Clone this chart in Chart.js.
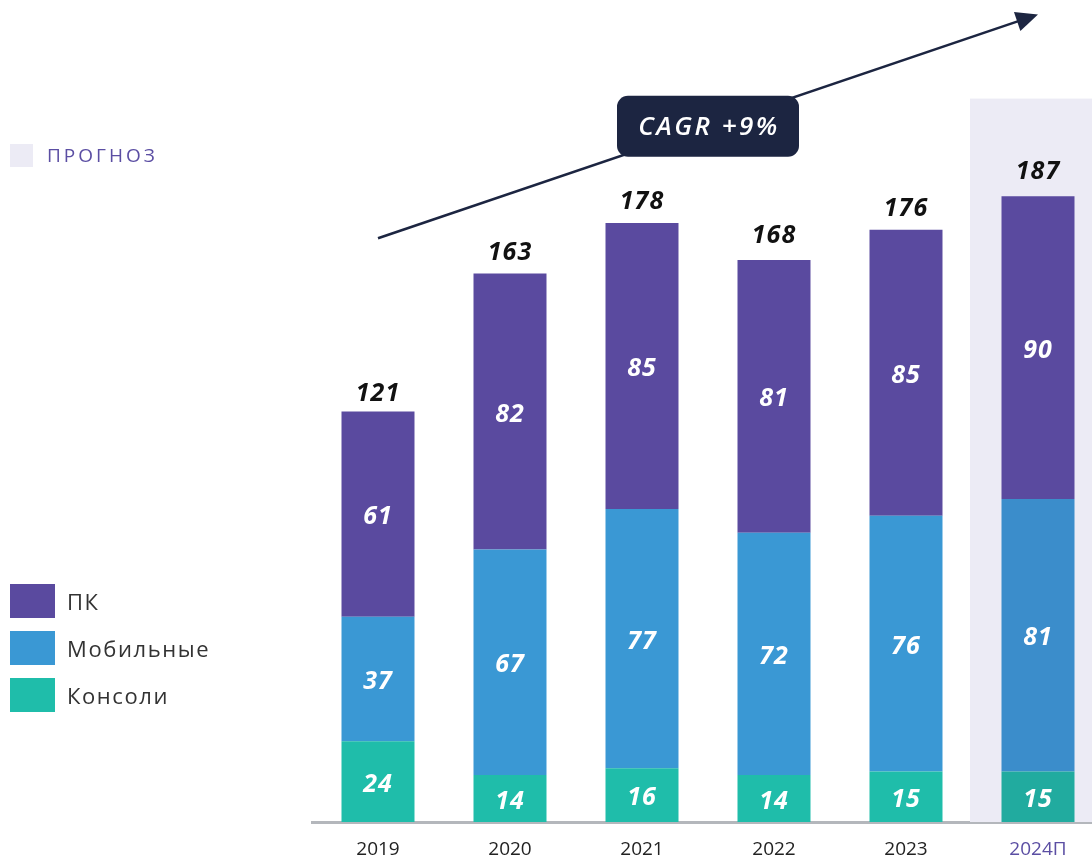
<!DOCTYPE html>
<html>
<head>
<meta charset="utf-8">
<script src="https://cdn.jsdelivr.net/npm/chart.js@4"></script>
<style>
  body { margin: 0; background: #fff; overflow: hidden; font-family: "Open Sans", sans-serif; }
  #wrap { position: absolute; left: 0; top: 0; width: 1104px; height: 857px; }
  .lg { position: absolute; left: 10px; display: flex; align-items: center; }
  .lg .sw { width: 45px; height: 34px; }
  .lg span { margin-left: 12px; font-size: 22px; color: #333; letter-spacing: 1.6px; }
  #fc { position: absolute; left: 10px; top: 142px; display: flex; align-items: center; }
  #fc .sw { width: 23px; height: 23px; background: #ecebf5; }
  #fc span { margin-left: 14px; font-size: 19px; color: #5b4ea3; letter-spacing: 3px; }
</style>
</head>
<body>
<div id="wrap"><canvas id="chart" width="1104" height="857"></canvas></div>

<div id="fc"><div class="sw"></div><span>ПРОГНОЗ</span></div>
<div class="lg" style="top:584px"><div class="sw" style="background:#5a4a9f"></div><span>ПК</span></div>
<div class="lg" style="top:631px"><div class="sw" style="background:#3a98d4"></div><span>Мобильные</span></div>
<div class="lg" style="top:678px"><div class="sw" style="background:#1fbdaa"></div><span>Консоли</span></div>

<script>
// данные по годам
const years = ['2019', '2020', '2021', '2022', '2023', '2024П'];
const consoles = [24, 14, 16, 14, 15, 15];
const mobile = [37, 67, 77, 72, 76, 81];
const pc = [61, 82, 85, 81, 85, 90];
const totals = [121, 163, 178, 168, 176, 187];
const cagrText = 'CAGR +9%';

// прогнозный год чуть темнее (подложка)
const forecastIndex = 5;
function colorsFor(normal, forecast) {
    return years.map((y, i) => i === forecastIndex ? forecast : normal);
}

const labelFont = 'italic bold 25px "Open Sans", sans-serif';

const decorations = {
    id: 'decorations',
    beforeDatasetsDraw(chart) {
        const ctx = chart.ctx;
        const x = chart.scales.x;
        const y = chart.scales.y;
        const left = x.getPixelForValue(forecastIndex) - 68;
        const top = y.getPixelForValue(215);
        ctx.save();
        ctx.fillStyle = '#ecebf5';
        ctx.fillRect(left, top, chart.width - left, chart.chartArea.bottom - top);
        ctx.restore();
    },
    afterDatasetsDraw(chart) {
        const ctx = chart.ctx;
        const x = chart.scales.x;
        const y = chart.scales.y;
        ctx.save();
        ctx.textAlign = 'center';
        ctx.textBaseline = 'middle';
        ctx.font = labelFont;
        ctx.letterSpacing = '1px';

        // подписи внутри сегментов
        chart.data.datasets.forEach((ds, di) => {
            const meta = chart.getDatasetMeta(di);
            meta.data.forEach((bar, i) => {
                ctx.fillStyle = '#ffffff';
                ctx.fillText(ds.data[i], bar.x, (bar.y + bar.base) / 2 + 3);
            });
        });

        // итоги над столбцами
        ctx.fillStyle = '#111111';
        totals.forEach((t, i) => {
            ctx.fillText(t, x.getPixelForValue(i), y.getPixelForValue(t) - 21);
        });

        // стрелка роста
        const x1 = x.getPixelForValue(0), y1 = y.getPixelForValue(173.5);
        const x2 = x.getPixelForValue(forecastIndex), y2 = y.getPixelForValue(240);
        ctx.strokeStyle = '#1c2541';
        ctx.fillStyle = '#1c2541';
        ctx.lineWidth = 2.6;
        ctx.beginPath();
        ctx.moveTo(x1, y1);
        ctx.lineTo(x2 - 10, y2 + 3.4);
        ctx.stroke();
        const ang = Math.atan2(y2 - y1, x2 - x1);
        const len = 22, wid = 10;
        ctx.beginPath();
        ctx.moveTo(x2, y2);
        ctx.lineTo(x2 - len * Math.cos(ang) + wid * Math.sin(ang), y2 - len * Math.sin(ang) - wid * Math.cos(ang));
        ctx.lineTo(x2 - len * Math.cos(ang) - wid * Math.sin(ang), y2 - len * Math.sin(ang) + wid * Math.cos(ang));
        ctx.closePath();
        ctx.fill();

        // плашка CAGR
        const cx = (x1 + x2) / 2, cy = (y1 + y2) / 2;
        const bw = 182, bh = 61;
        ctx.beginPath();
        ctx.roundRect(cx - bw / 2, cy - bh / 2, bw, bh, 11);
        ctx.fill();
        ctx.fillStyle = '#ffffff';
        ctx.font = 'italic 600 26px "Open Sans", sans-serif';
        ctx.letterSpacing = '2.5px';
        ctx.fillText(cagrText, cx + 1, cy + 1);
        ctx.restore();
    }
};

const ctx = document.getElementById('chart').getContext('2d');
new Chart(ctx, {
    type: 'bar',
    data: {
        labels: years,
        datasets: [
            { label: 'Консоли', data: consoles, backgroundColor: colorsFor('#1fbdaa', '#21ab9f') },
            { label: 'Мобильные', data: mobile, backgroundColor: colorsFor('#3a98d4', '#3b8dcb') },
            { label: 'ПК', data: pc, backgroundColor: colorsFor('#5a4a9f', '#5a4a9f') }
        ]
    },
    options: {
        responsive: false,
        animation: false,
        layout: { padding: { left: 312, right: 0, top: 0, bottom: 0 } },
        datasets: { bar: { categoryPercentage: 1, barPercentage: 0.553 } },
        plugins: { legend: { display: false }, tooltip: { enabled: false } },
        scales: {
            x: {
                stacked: true,
                grid: { display: false },
                border: { display: true, color: '#b4b7bc', width: 3 },
                ticks: {
                    padding: 8,
                    font: { family: 'Open Sans', size: 19 },
                    color: (c) => c.index === forecastIndex ? '#5b4ea3' : '#222222'
                },
                afterFit(scale) { scale.height = 35; }
            },
            y: {
                stacked: true,
                display: false,
                min: 0,
                max: 244.3
            }
        }
    },
    plugins: [decorations]
});
</script>
</body>
</html>
